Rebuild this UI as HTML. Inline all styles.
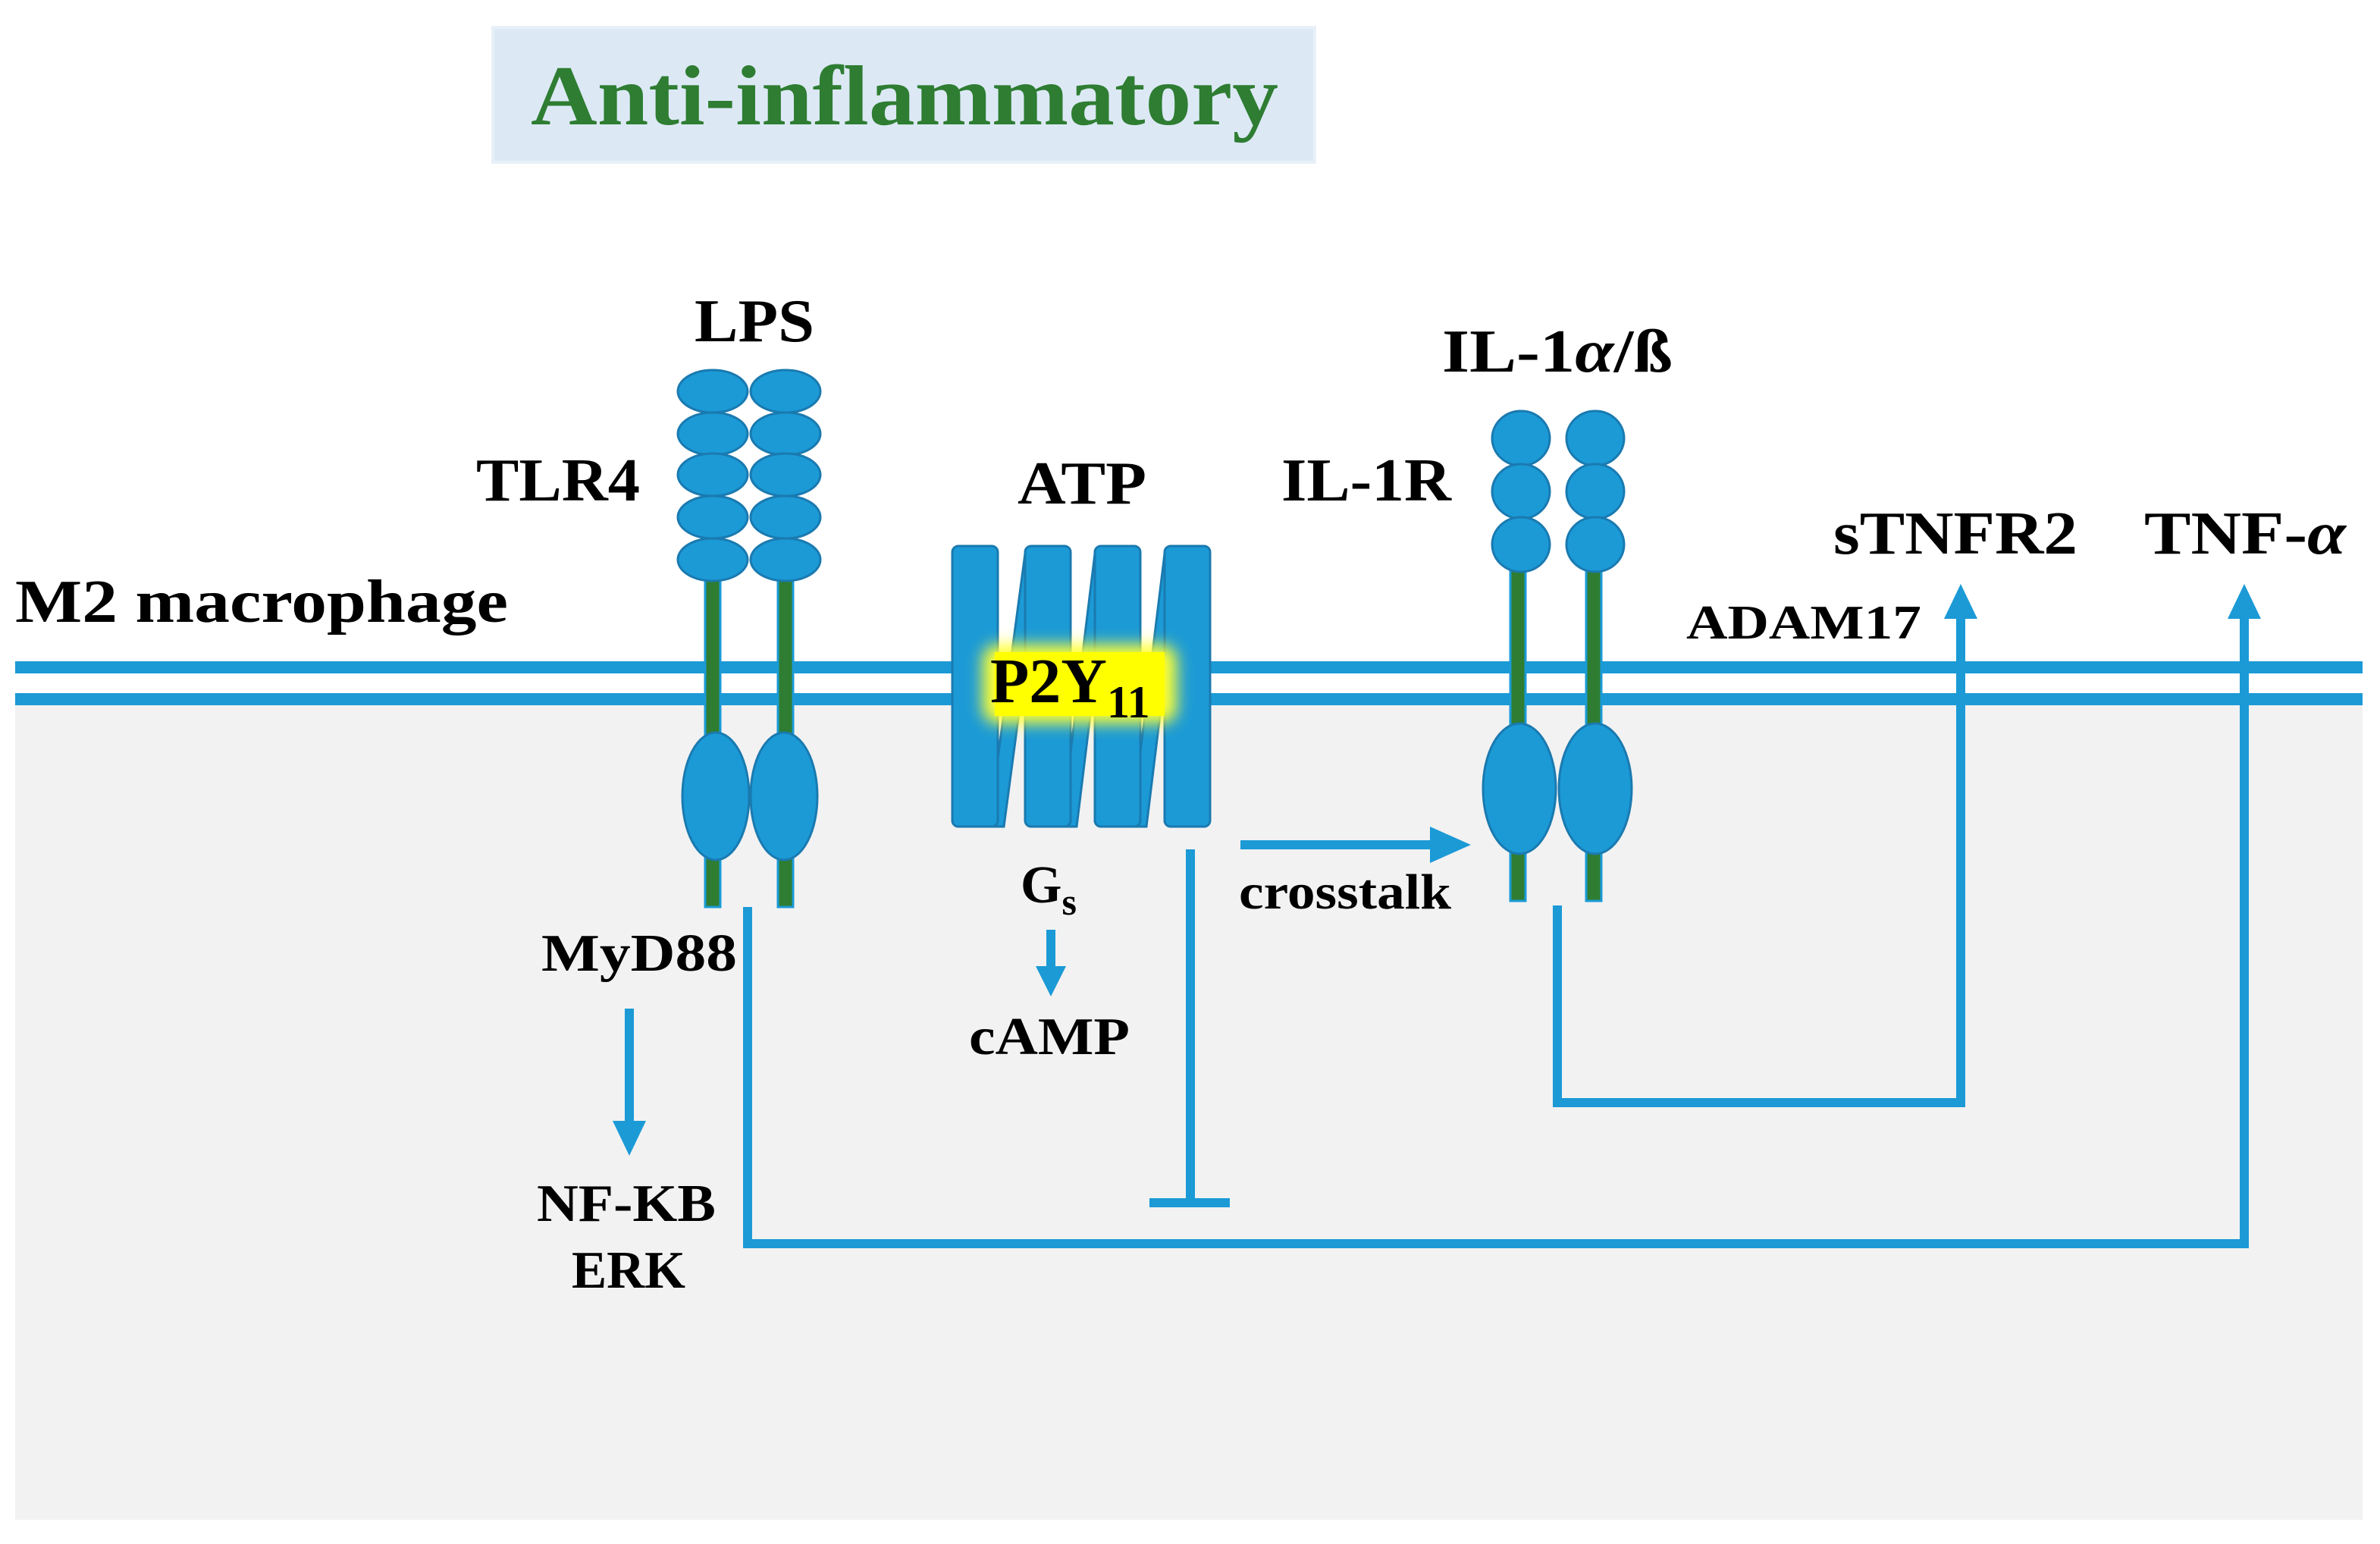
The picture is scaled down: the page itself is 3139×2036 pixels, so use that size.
<!DOCTYPE html>
<html><head><meta charset="utf-8"><style>
html,body{margin:0;padding:0;background:#fff;}
svg{display:block;}
text{font-family:"Liberation Serif",serif;font-weight:bold;fill:#000;}
</style></head><body>
<svg width="3139" height="2036" viewBox="0 0 1569.5 1018" xmlns="http://www.w3.org/2000/svg">
<defs>
<filter id="glow" x="-30%" y="-50%" width="160%" height="200%"><feGaussianBlur stdDeviation="5"/></filter>
</defs>
<rect x="0" y="0" width="1569.5" height="1018" fill="#fff"/>
<rect x="10" y="462" width="1548" height="540" fill="#f2f2f2"/>
<rect x="325" y="18" width="542" height="89" fill="#dce9f5" stroke="#e8f0f8" stroke-width="2"/>
<text x="350" y="82" font-size="56" textLength="493" lengthAdjust="spacingAndGlyphs" style="fill:#2e7d32">Anti-inflammatory</text>

<!-- membrane -->
<line x1="10" y1="440" x2="1558" y2="440" stroke="#1b9ad6" stroke-width="8"/>
<line x1="10" y1="461" x2="1558" y2="461" stroke="#1b9ad6" stroke-width="8"/>

<!-- connectors -->
<g stroke="#1b9ad6" stroke-width="6" fill="none">
<polyline points="493,598 493,820 1480,820 1480,405"/>
<polyline points="1027,597 1027,727 1293,727 1293,405"/>
<line x1="415" y1="665" x2="415" y2="742"/>
<line x1="693" y1="613" x2="693" y2="640"/>
<line x1="818" y1="557" x2="945" y2="557"/>
<line x1="785" y1="560" x2="785" y2="793"/>
<line x1="758" y1="793" x2="811" y2="793"/>
</g>
<g fill="#1b9ad6">
<polygon points="1480,385 1469,408 1491,408"/>
<polygon points="1293,385 1282,408 1304,408"/>
<polygon points="415,762 404,739 426,739"/>
<polygon points="693,657 683,637 703,637"/>
<polygon points="970,557 943,545 943,569"/>
</g>

<!-- TLR4 -->
<g stroke="#1a7ab0" stroke-width="1.5">
<rect x="465" y="375" width="10" height="223" fill="#2e7d32" stroke="#1b9ad6"/>
<rect x="513" y="375" width="10" height="223" fill="#2e7d32" stroke="#1b9ad6"/>
<g fill="#1b9ad6">
<ellipse cx="470" cy="258" rx="23" ry="14"/><ellipse cx="518" cy="258" rx="23" ry="14"/>
<ellipse cx="470" cy="286" rx="23" ry="14"/><ellipse cx="518" cy="286" rx="23" ry="14"/>
<ellipse cx="470" cy="313" rx="23" ry="14"/><ellipse cx="518" cy="313" rx="23" ry="14"/>
<ellipse cx="470" cy="341" rx="23" ry="14"/><ellipse cx="518" cy="341" rx="23" ry="14"/>
<ellipse cx="470" cy="369" rx="23" ry="14"/><ellipse cx="518" cy="369" rx="23" ry="14"/>
<ellipse cx="472" cy="525" rx="22" ry="42"/><ellipse cx="517" cy="525" rx="22" ry="42"/>
</g>
</g>

<!-- IL-1R -->
<g stroke="#1a7ab0" stroke-width="1.5">
<rect x="996" y="370" width="10" height="224" fill="#2e7d32" stroke="#1b9ad6"/>
<rect x="1046" y="370" width="10" height="224" fill="#2e7d32" stroke="#1b9ad6"/>
<g fill="#1b9ad6">
<ellipse cx="1003" cy="289" rx="19" ry="18"/><ellipse cx="1052" cy="289" rx="19" ry="18"/>
<ellipse cx="1003" cy="324" rx="19" ry="18"/><ellipse cx="1052" cy="324" rx="19" ry="18"/>
<ellipse cx="1003" cy="359" rx="19" ry="18"/><ellipse cx="1052" cy="359" rx="19" ry="18"/>
<ellipse cx="1002" cy="520" rx="24" ry="43"/><ellipse cx="1052" cy="520" rx="24" ry="43"/>
</g>
</g>

<!-- P2Y11 -->
<g fill="#1b9ad6" stroke="#1a7ab0" stroke-width="1.5">
<polygon points="652,545 676,365 686,365 662,545"/>
<polygon points="700,545 722,365 732,365 710,545"/>
<polygon points="746,545 768,365 778,365 756,545"/>
<rect x="628" y="360" width="30" height="185" rx="4"/>
<rect x="676" y="360" width="30" height="185" rx="4"/>
<rect x="722" y="360" width="30" height="185" rx="4"/>
<rect x="768" y="360" width="30" height="185" rx="4"/>
</g>
<rect x="648" y="425" width="128" height="52" rx="10" fill="#ffff33" filter="url(#glow)"/>
<rect x="656" y="430" width="112" height="42" fill="#ffff00"/>
<text x="653" y="463" font-size="42">P2Y<tspan font-size="30" dy="10">11</tspan></text>

<!-- labels -->
<text x="458" y="225" font-size="40" textLength="79" lengthAdjust="spacingAndGlyphs">LPS</text>
<text x="314" y="330" font-size="40" textLength="108" lengthAdjust="spacingAndGlyphs">TLR4</text>
<text x="671" y="332" font-size="40" textLength="85" lengthAdjust="spacingAndGlyphs">ATP</text>
<text x="845" y="330" font-size="40" textLength="112" lengthAdjust="spacingAndGlyphs">IL-1R</text>
<text x="951" y="245" font-size="40" textLength="152" lengthAdjust="spacingAndGlyphs">IL-1<tspan font-style="italic">α</tspan>/ß</text>
<text x="1209" y="365" font-size="40" textLength="161" lengthAdjust="spacingAndGlyphs">sTNFR2</text>
<text x="1414" y="365" font-size="40" textLength="133" lengthAdjust="spacingAndGlyphs">TNF-<tspan font-style="italic">α</tspan></text>
<text x="10" y="410" font-size="40" textLength="325" lengthAdjust="spacingAndGlyphs">M2 macrophage</text>
<text x="1112" y="421" font-size="32" textLength="155" lengthAdjust="spacingAndGlyphs">ADAM17</text>
<text x="817" y="599" font-size="33" textLength="140" lengthAdjust="spacingAndGlyphs">crosstalk</text>
<text x="673" y="595" font-size="35">G<tspan font-size="25" dy="8">s</tspan></text>
<text x="639" y="695" font-size="35" textLength="106" lengthAdjust="spacingAndGlyphs">cAMP</text>
<text x="357" y="640" font-size="35" textLength="129" lengthAdjust="spacingAndGlyphs">MyD88</text>
<text x="354" y="805" font-size="35" textLength="118" lengthAdjust="spacingAndGlyphs">NF-KB</text>
<text x="377" y="849" font-size="35" textLength="75" lengthAdjust="spacingAndGlyphs">ERK</text>
</svg>
</body></html>
